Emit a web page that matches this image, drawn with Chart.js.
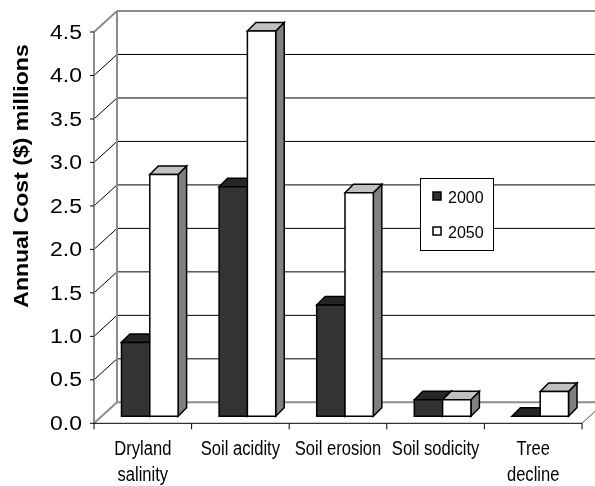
<!DOCTYPE html>
<html>
<head>
<meta charset="utf-8">
<script src="https://cdn.jsdelivr.net/npm/chart.js@4.4.0/dist/chart.umd.min.js"></script>
<style>
  body { margin: 0; background: #fff; }
</style>
</head>
<body>
<canvas id="costChart" width="595" height="486"></canvas>
<script>
// annual cost by land degradation type, $ millions
const categories = [['Dryland', 'salinity'], ['Soil acidity'], ['Soil erosion'], ['Soil sodicity'], ['Tree', 'decline']];
const seriesNames = ['2000', '2050'];
const cost2000 = [0.85, 2.64, 1.28, 0.19, 0.0];
const cost2050 = [2.78, 4.43, 2.57, 0.19, 0.285];
const yTicks = [0, 0.5, 1, 1.5, 2, 2.5, 3, 3.5, 4, 4.5];

const FONT = '"Liberation Sans", Arial, sans-serif';

// faces: front, top, side
const faces2000 = ['#333333', '#262626', '#1a1a1a'];
const faces2050 = ['#ffffff', '#c0c0c0', '#808080'];

// offsets from the plane the bars stand in
const FRONT = { dx: -7, dy: 7 };
const BACK = { dx: 16, dy: -14 };
const BAR_DEPTH = 8.5;

function stretchedText(ctx, text, x, y, sx, align) {
  ctx.save();
  ctx.translate(x, y);
  ctx.scale(sx, 1);
  ctx.textAlign = align;
  ctx.fillText(text, 0, 0);
  ctx.restore();
}

function line(ctx, x1, y1, x2, y2, color, w) {
  ctx.beginPath();
  ctx.moveTo(x1, y1);
  ctx.lineTo(x2, y2);
  ctx.strokeStyle = color;
  ctx.lineWidth = w;
  ctx.stroke();
}

function poly(ctx, pts, fill) {
  ctx.beginPath();
  ctx.moveTo(pts[0][0], pts[0][1]);
  for (let i = 1; i < pts.length; i++) ctx.lineTo(pts[i][0], pts[i][1]);
  ctx.closePath();
  ctx.fillStyle = fill;
  ctx.fill();
  ctx.stroke();
}

function drawBox(ctx, bar, faces) {
  const l = bar.x - bar.width / 2, r = bar.x + bar.width / 2;
  const t = bar.y, b = bar.base, d = BAR_DEPTH;
  ctx.strokeStyle = '#000';
  ctx.lineWidth = 1.5;
  ctx.lineJoin = 'miter';
  poly(ctx, [[r, t], [r + d, t - d], [r + d, b - d], [r, b]], faces[2]);
  poly(ctx, [[l, t], [l + d, t - d], [r + d, t - d], [r, t]], faces[1]);
  if (b - t > 0.5) poly(ctx, [[l, t], [r, t], [r, b], [l, b]], faces[0]);
}

const depthPlugin = {
  id: 'depth3d',
  beforeDatasetsDraw(chart) {
    const ctx = chart.ctx;
    const xs = chart.scales.x, ys = chart.scales.y;
    const area = chart.chartArea;
    const fl = area.left + FRONT.dx, fr = area.right + FRONT.dx;
    const bl = area.left + BACK.dx, br = area.right + BACK.dx;
    const fy = v => ys.getPixelForValue(v) + FRONT.dy;
    const by = v => ys.getPixelForValue(v) + BACK.dy;
    const top = yTicks[yTicks.length - 1];

    ctx.save();
    // gridlines on back and side walls
    yTicks.forEach(v => {
      if (v === 0 || v === top) return;
      line(ctx, bl, by(v), br, by(v), '#000', 1);
      line(ctx, fl, fy(v), bl, by(v), '#000', 1);
    });
    // wall edges
    line(ctx, bl, by(0), br, by(0), '#8c8c8c', 2);
    line(ctx, bl, by(top), br, by(top), '#8c8c8c', 2);
    line(ctx, bl, by(0), bl, by(top), '#8c8c8c', 2);
    line(ctx, fl, fy(top), bl, by(top), '#8c8c8c', 2);
    line(ctx, fl, fy(0), bl, by(0), '#8c8c8c', 2);
    line(ctx, fr, fy(0), br, by(0), '#555', 1);
    line(ctx, fl, fy(0), fl, fy(top), '#8c8c8c', 2);
    // front floor edge with category ticks
    line(ctx, fl, fy(0), fr, fy(0), '#000', 1);
    const step = xs.width / categories.length;
    for (let i = 0; i <= categories.length; i++) {
      const x = fl + i * step;
      line(ctx, x, fy(0), x, fy(0) + 6, '#000', 1);
    }
    // value axis ticks and labels
    ctx.fillStyle = '#000';
    ctx.font = '20.5px ' + FONT;
    ctx.textBaseline = 'middle';
    yTicks.forEach(v => {
      line(ctx, fl - 4, fy(v), fl, fy(v), '#000', 1);
      stretchedText(ctx, v.toFixed(1), 82, fy(v) + 1, 1.12, 'right');
    });
    // category labels
    ctx.font = '19.5px ' + FONT;
    ctx.textBaseline = 'alphabetic';
    categories.forEach((lines, i) => {
      const cx = xs.getPixelForValue(i) + FRONT.dx;
      lines.forEach((s, k) => stretchedText(ctx, s, cx, 455 + k * 26, 0.85, 'center'));
    });
    // axis title
    ctx.font = 'bold 19.5px ' + FONT;
    ctx.translate(28, 176);
    ctx.rotate(-Math.PI / 2);
    stretchedText(ctx, 'Annual Cost ($) millions', 0, 0, 1.18, 'center');
    ctx.restore();

    // bars, back to front per category
    const m0 = chart.getDatasetMeta(0).data, m1 = chart.getDatasetMeta(1).data;
    ctx.save();
    for (let i = 0; i < categories.length; i++) {
      drawBox(ctx, m0[i], faces2000);
      drawBox(ctx, m1[i], faces2050);
    }
    ctx.restore();
    return false;
  },
  afterDraw(chart) {
    const ctx = chart.ctx;
    ctx.save();
    ctx.fillStyle = '#fff';
    ctx.strokeStyle = '#000';
    ctx.lineWidth = 1;
    ctx.fillRect(420.5, 178.5, 73, 72);
    ctx.strokeRect(420.5, 178.5, 73, 72);
    const swatches = [faces2000[0], faces2050[0]];
    seriesNames.forEach((name, k) => {
      const yc = 198 + k * 35;
      ctx.fillStyle = swatches[k];
      ctx.lineWidth = 1.5;
      ctx.fillRect(433, yc - 6, 8, 8);
      ctx.strokeRect(433, yc - 6, 8, 8);
      ctx.fillStyle = '#000';
      ctx.font = '16px ' + FONT;
      ctx.textBaseline = 'middle';
      ctx.textAlign = 'left';
      ctx.fillText(name, 448, yc + 1);
    });
    ctx.restore();
  }
};

new Chart(document.getElementById('costChart'), {
  type: 'bar',
  data: {
    labels: categories,
    datasets: [
      { label: seriesNames[0], data: cost2000, backgroundColor: faces2000[0] },
      { label: seriesNames[1], data: cost2050, backgroundColor: faces2050[0] }
    ]
  },
  options: {
    responsive: false,
    animation: false,
    devicePixelRatio: 1,
    categoryPercentage: 0.58,
    barPercentage: 1.0,
    layout: { padding: { left: 101, right: 6, top: 25, bottom: 69.7 } },
    scales: {
      x: { display: false },
      y: { display: false, min: 0, max: 4.5 }
    },
    plugins: { legend: { display: false }, tooltip: { enabled: false } }
  },
  plugins: [depthPlugin]
});
</script>
</body>
</html>
